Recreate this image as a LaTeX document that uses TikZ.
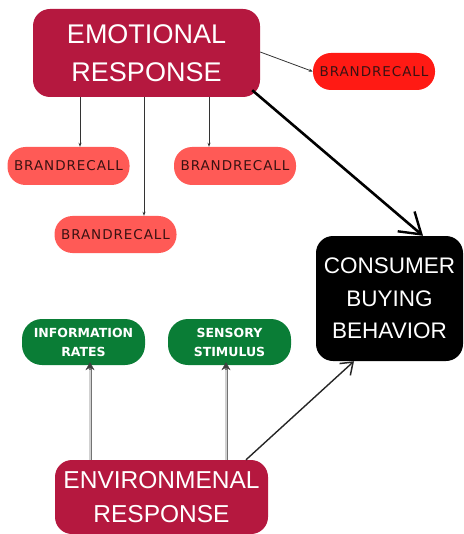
\documentclass[tikz,border=0pt]{standalone}
\usepackage{fontspec}
\setmainfont{Liberation Sans}
\newfontfamily\tagfont[LetterSpace=7]{DejaVu Sans}
\newfontfamily\verdfont{DejaVu Sans}
\usetikzlibrary{arrows.meta}
\definecolor{crimson}{HTML}{B5183F}
\definecolor{hotred}{HTML}{FF1A14}
\definecolor{salmon}{HTML}{FF5A56}
\definecolor{leaf}{HTML}{0A7D36}
\definecolor{tagtext}{HTML}{3A1212}
\begin{document}
\begin{tikzpicture}[x=1pt,y=-1pt,
  bigbox/.style={fill=crimson, rounded corners=17pt, text=white, align=center,
    inner sep=0pt, font=\fontsize{27}{38}\selectfont},
  recall/.style={fill=salmon, rounded corners=18pt, minimum width=122pt,
    minimum height=38pt, inner sep=0pt, text=tagtext,
    font=\tagfont\fontsize{13.5}{15}\selectfont},
  greenbox/.style={fill=leaf, rounded corners=20pt, minimum width=123pt,
    minimum height=46pt, inner sep=0pt, text=white, align=center,
    font=\verdfont\bfseries\fontsize{12.5}{19}\selectfont},
  thin/.style={draw=black!80, line width=0.8pt, -{Stealth[length=4pt,width=3pt]}},
  grayarrow/.style={draw=black!55, line width=3pt,
    -{Stealth[length=8pt,width=9pt,color=black!75,line width=0.5pt]},
    postaction={draw=black!18, line width=1.1pt, -, shorten >=8pt}},
  bold/.style={draw=black, line width=2.6pt, -{Straight Barb[length=20pt,width=26pt,line width=2.4pt]}},
  plain/.style={draw=black!85, line width=1.4pt, -{Straight Barb[length=11pt,width=16pt,line width=1.5pt]}}]
\useasboundingbox (0,0) rectangle (463,534);

% main boxes
\node[bigbox, minimum width=227pt, minimum height=88pt] (emo) at (146.5,53)
  {EMOTIONAL\\RESPONSE};
\node[bigbox, fill=black, minimum width=147pt, minimum height=125pt,
  font=\fontsize{22.5}{32.5}\selectfont] (buy) at (389.5,298.5)
  {CONSUMER\\BUYING\\BEHAVIOR};
\node[bigbox, minimum width=213pt, minimum height=74pt,
  font=\fontsize{24.5}{34}\selectfont] (env) at (161.5,497)
  {ENVIRONMENAL\\RESPONSE};

% brand recall tags
\node[recall, fill=hotred, minimum height=37pt] (brR) at (374,71.5) {BRANDRECALL};
\node[recall] (br1) at (68.5,166) {BRANDRECALL};
\node[recall] (br2) at (235,166) {BRANDRECALL};
\node[recall, minimum height=37pt] (br3) at (115.5,234.5) {BRANDRECALL};

% environmental outcomes
\node[greenbox] (info) at (83.5,342) {INFORMATION\\RATES};
\node[greenbox] (sens) at (229.5,342) {SENSORY\\STIMULUS};

% connectors from the emotional response
\draw[thin] (emo.east |- 0,52) -- (brR.west);
\draw[thin] (emo.south -| 80,0) -- (br1.north -| 80,0);
\draw[thin] (emo.south -| 144,0) -- (br3.north -| 144,0);
\draw[thin] (emo.south -| 209,0) -- (br2.north -| 209,0);
\draw[bold] (emo.south east) ++(-8,-7) -- (buy.north -| 423,0);

% connectors from the environmental response
\draw[grayarrow] (env.north -| 90,0) -- ([yshift=3pt]info.south -| 90,0);
\draw[grayarrow] (env.north -| 226,0) -- ([yshift=3pt]sens.south -| 226,0);
\draw[plain] (env.north -| 246,0) -- (buy.south -| 354,0);
\end{tikzpicture}
\end{document}
